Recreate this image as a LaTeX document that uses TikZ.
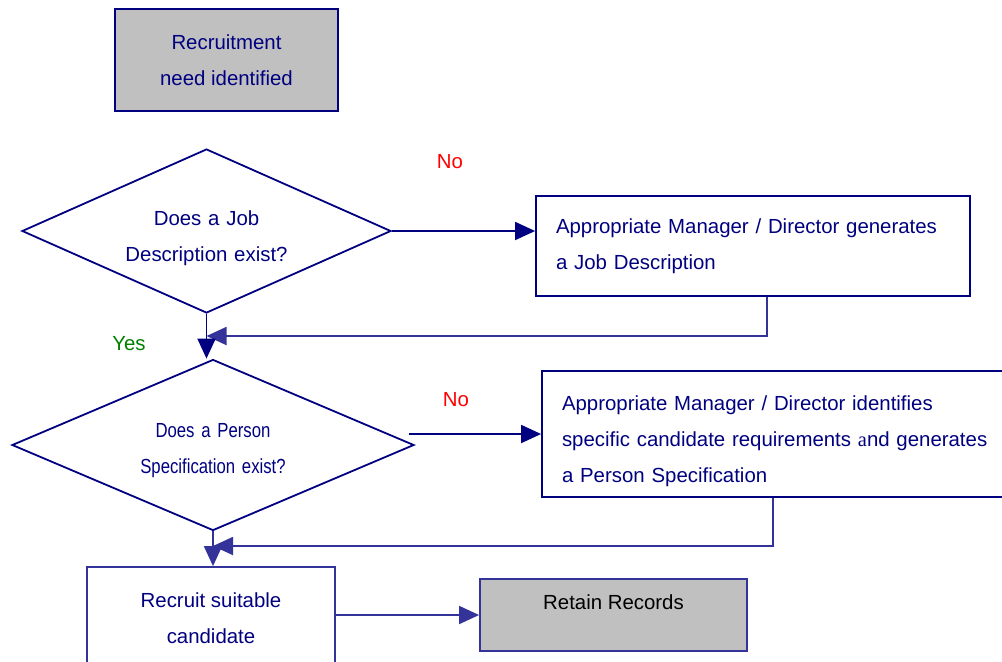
\documentclass[tikz,border=0pt]{standalone}
\usepackage{fontspec}
\setmainfont{Liberation Sans}
\newfontfamily\narrowfont[FakeStretch=0.82,WordSpace=0.82]{Liberation Sans}
\newfontfamily\oddfont{Liberation Serif}
\usepackage{tikz}
\usetikzlibrary{arrows.meta,shapes.geometric,positioning}
\definecolor{navy}{RGB}{0,0,128}
\definecolor{paleblue}{RGB}{51,51,153}
\definecolor{boxgray}{RGB}{192,192,192}

\begin{document}
\begin{tikzpicture}[->,>={Triangle[length=10pt,width=9pt]},x=0.5pt,y=-0.5pt,
                    line width=0.9pt,draw=navy,
                    font=\fontsize{10.2}{18}\selectfont]
  \tikzstyle{every node}=[text=navy,inner sep=0pt]
  \tikzstyle{process}=[rectangle,draw=navy,fill=white,align=center]
  \tikzstyle{grayprocess}=[process,fill=boxgray]
  \tikzstyle{decision}=[diamond,draw=navy,align=center,text width=100pt]
  \tikzstyle{loopback}=[draw=paleblue]

  \useasboundingbox (0,0) rectangle (1002,661);

  \node[grayprocess,minimum width=111.5pt,minimum height=51pt]
        (need) at (226.5,60)  {Recruitment\\need identified};
  \node[decision,aspect=2.25,minimum width=184.5pt,minimum height=82pt,
        text height=7pt,text depth=13pt]
        (jobq) at (206.5,231) {Does a Job\\Description exist?};
  \node[process,minimum height=50pt,text width=197pt,align=left,inner xsep=10pt]
        (jobdesc) at (753,246) {Appropriate Manager / Director generates\\a Job Description};
  \node[decision,aspect=2.35,minimum width=201pt,minimum height=85.5pt,
        text height=6pt,text depth=14pt,font=\narrowfont\fontsize{10.2}{18}\selectfont]
        (personq) at (213,445) {Does a Person\\Specification exist?};
  \node[process,minimum height=63pt,text width=224pt,align=left,inner xsep=10pt,
        text height=7.5pt,text depth=31.5pt]
        (personspec) at (786,434) {Appropriate Manager / Director identifies\\
          specific candidate requirements {\oddfont a}nd generates\\a Person Specification};
  \node[process,draw=paleblue,minimum width=124pt,minimum height=51pt]
        (recruit) at (211,618) {Recruit suitable\\candidate};
  \node[grayprocess,draw=paleblue,minimum width=133.5pt,minimum height=36pt,
        text height=7.5pt,text depth=13.5pt,text=black]
        (retain) at (613.5,615) {Retain Records};

  \node[text=red]          (no1)  at (450,162) {No};
  \node[text=red]          (no2)  at (456,400) {No};
  \node[text=green!50!black] (yes) at (129,344) {Yes};

  \coordinate (back1) at (767,336);
  \coordinate (back2) at (773,546);
  \coordinate (out2)  at (409,434);

  \draw (jobq.east) -- (jobq.east -| jobdesc.west);
  \draw[loopback] (jobdesc.south -| back1) -- (back1) -- (back1 -| jobq.south);
  \draw (jobq.south) -- (jobq.south |- personq.north);
  \draw (out2) -- (out2 -| personspec.west);
  \draw[loopback] (personspec.south -| back2) -- (back2) -- (back2 -| personq.south);
  \draw[loopback] (personq.south) -- (personq.south |- recruit.north);
  \draw[loopback] (recruit.east |- retain.west) -- (retain.west);
\end{tikzpicture}
\end{document}
